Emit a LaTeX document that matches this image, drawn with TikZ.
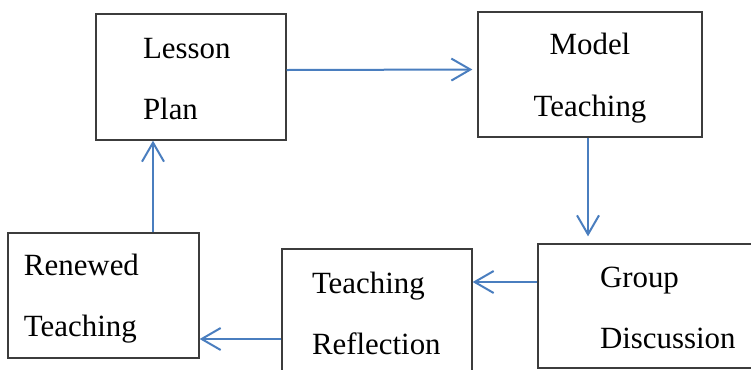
\documentclass[tikz,border=0pt]{standalone}
\usepackage{fontspec}
\setmainfont{Liberation Serif}
\usepackage{xcolor}
\definecolor{linkblue}{HTML}{4A7EBF}
\definecolor{frame}{HTML}{3C3C3C}
\usepackage{tikz}
\usetikzlibrary{arrows.meta}

\begin{document}
\begin{tikzpicture}[x=1bp,y=-1bp,>={Straight Barb[length=19bp,width=22bp]},
  every node/.style={font=\fontsize{31}{62}\selectfont},
  stage/.style={draw=frame,line width=1.3bp,rectangle,inner ysep=0pt,align=left,text height=21bp,text depth=59bp},
  flow/.style={->,linkblue,line width=2bp}]
\useasboundingbox (0,0) rectangle (751,369);
\node[stage,inner xsep=47bp,text width=96bp,minimum height=126bp] (lesson) at (191,77) {Lesson\\Plan};
\node[stage,align=center,inner xsep=37bp,text width=150bp,minimum height=125bp,text depth=61bp] (model) at (590,74.5) {Model\\Teaching};
\node[stage,inner xsep=62bp,text width=138bp,minimum height=124bp] (group) at (669,306) {Group\\Discussion};
\node[stage,inner xsep=30bp,text width=130bp,minimum height=126bp] (reflect) at (377,312) {Teaching\\Reflection};
\node[stage,inner xsep=16bp,text width=159bp,minimum height=125bp,text depth=62bp] (renew) at (103.5,295.5) {Renewed\\Teaching};
\draw[flow,shorten >=5bp] ([yshift=7bp]lesson.east) -- ([yshift=5bp]model.west);
\draw[flow,shorten >=7bp] ([xshift=-2bp]model.south) -- ([xshift=-2bp]model.south |- group.north);
\draw[flow] ([yshift=24bp]group.west) -- ([yshift=24bp]group.west -| reflect.east);
\draw[flow] ([yshift=-27bp]reflect.west) -- ([yshift=-27bp]reflect.west -| renew.east);
\draw[flow] ([xshift=49.5bp]renew.north) -- ([xshift=49.5bp]renew.north |- lesson.south);
\end{tikzpicture}
\end{document}
